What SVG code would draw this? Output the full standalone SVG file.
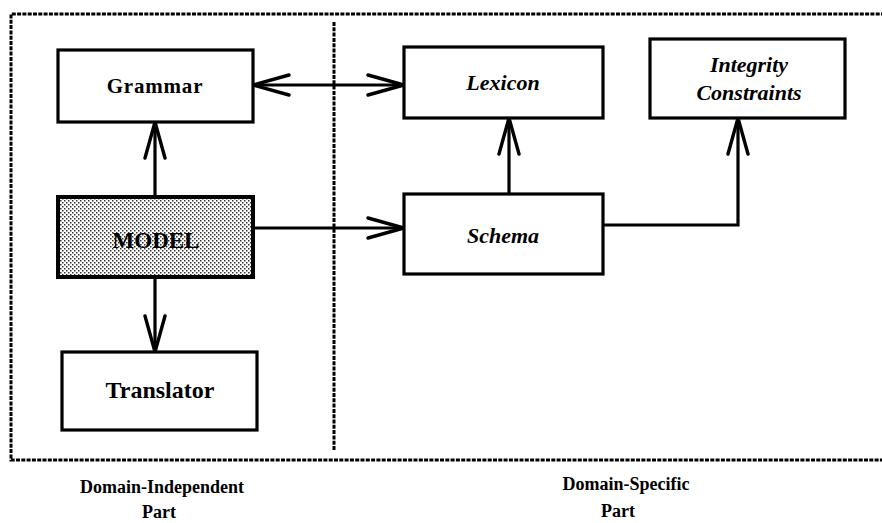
<svg xmlns="http://www.w3.org/2000/svg" width="882" height="523" viewBox="0 0 882 523">
<style>
.box{fill:#fff;stroke:#000;stroke-width:3.2}
.frame{fill:none;stroke:#000;stroke-width:3;stroke-dasharray:4 1.3}
.conn{fill:none;stroke:#000;stroke-width:3.2}
.t{font-family:"Liberation Serif","Times New Roman",serif;font-weight:bold;fill:#000;text-anchor:middle}
.i{font-style:italic}
</style>
<defs>
<pattern id="stip" width="4" height="4" patternUnits="userSpaceOnUse">
<rect width="4" height="4" fill="#fff"/>
<rect x="0" y="0" width="1.5" height="1.5" fill="#333"/>
<rect x="2" y="2" width="1.5" height="1.5" fill="#333"/>
</pattern>
<marker id="ah" viewBox="0 0 40 24" refX="38" refY="12" markerWidth="40" markerHeight="24" markerUnits="userSpaceOnUse" orient="auto-start-reverse">
<path d="M2,2 L38,12 L2,22" fill="none" stroke="#000" stroke-width="3.4" stroke-linecap="round" stroke-linejoin="miter"/>
</marker>
</defs>
<rect width="882" height="523" fill="#fff"/>
<g id="frame">
<path class="frame" d="M885,14 L11,14 L11,460 L885,460"/>
<line class="frame" x1="334" y1="22" x2="334" y2="450"/>
</g>
<g id="connectors">
<line class="conn" x1="253" y1="85" x2="404" y2="85" marker-start="url(#ah)" marker-end="url(#ah)"/>
<line class="conn" x1="155" y1="197" x2="155" y2="122" marker-end="url(#ah)"/>
<line class="conn" x1="253" y1="228" x2="404" y2="228" marker-end="url(#ah)"/>
<line class="conn" x1="155" y1="277" x2="155" y2="352" marker-end="url(#ah)"/>
<line class="conn" x1="509" y1="194" x2="509" y2="118" marker-end="url(#ah)"/>
<polyline class="conn" points="603,225 738,225 738,118" marker-end="url(#ah)"/>
</g>
<g id="grammar">
<rect class="box" x="58" y="50" width="195" height="72"/>
<text class="t" x="155" y="93" font-size="21" letter-spacing="0.8">Grammar</text>
</g>
<g id="model">
<rect x="58" y="197" width="195" height="80" fill="url(#stip)" stroke="#000" stroke-width="4"/>
<text class="t" x="156" y="248" font-size="23">MODEL</text>
</g>
<g id="translator">
<rect class="box" x="62" y="352" width="195" height="78"/>
<text class="t" x="160" y="398" font-size="24">Translator</text>
</g>
<g id="lexicon">
<rect class="box" x="404" y="47" width="199" height="71"/>
<text class="t i" x="503" y="90" font-size="22">Lexicon</text>
</g>
<g id="schema">
<rect class="box" x="404" y="194" width="199" height="80"/>
<text class="t i" x="503" y="243" font-size="22">Schema</text>
</g>
<g id="integrity">
<rect class="box" x="650" y="39" width="195" height="79"/>
<text class="t i" x="749" y="72" font-size="22">Integrity</text>
<text class="t i" x="749" y="100" font-size="22">Constraints</text>
</g>
<g id="labels">
<text class="t" x="162" y="493" font-size="18">Domain-Independent</text>
<text class="t" x="159" y="518" font-size="18">Part</text>
<text class="t" x="626" y="490" font-size="18">Domain-Specific</text>
<text class="t" x="618" y="517" font-size="18">Part</text>
</g>
</svg>
